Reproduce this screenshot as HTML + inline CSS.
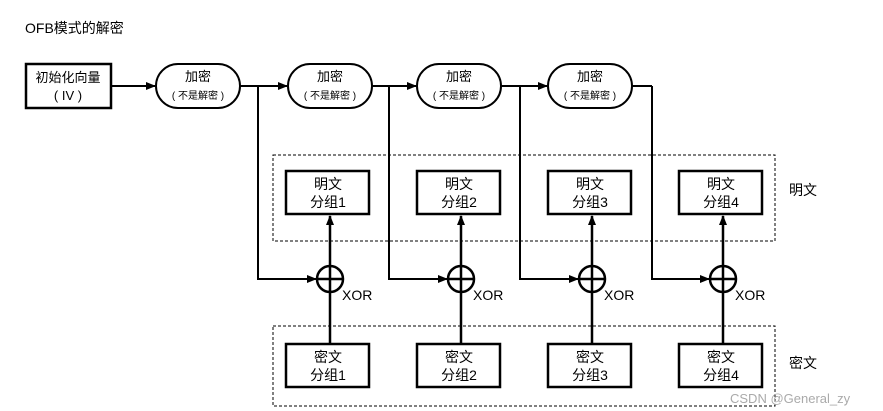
<!DOCTYPE html>
<html><head><meta charset="utf-8"><style>
html,body{margin:0;padding:0;background:#fff;width:883px;height:411px;overflow:hidden}
svg{display:block}
text{font-family:"Liberation Sans","Noto Sans CJK SC",sans-serif;fill:#000}
</style></head><body>
<svg width="883" height="411" viewBox="0 0 883 411" xmlns="http://www.w3.org/2000/svg">
<defs><marker id="a" markerWidth="10" markerHeight="8" refX="9" refY="4" orient="auto" markerUnits="userSpaceOnUse"><path d="M0,0L10,4L0,8z" fill="#000"/></marker></defs>
<text x="25" y="33" font-size="14">OFB模式的解密</text>
<rect x="26" y="64" width="85" height="44" fill="none" stroke="#000" stroke-width="2.5"/>
<text x="68" y="82" font-size="13" text-anchor="middle">初始化向量</text>
<text x="68" y="100" font-size="13" text-anchor="middle">( IV )</text>
<g fill="none" stroke="#000" stroke-width="2">
<line x1="111" y1="86" x2="155" y2="86" marker-end="url(#a)"/>
<line x1="240" y1="86" x2="287" y2="86" marker-end="url(#a)"/>
<line x1="372" y1="86" x2="416" y2="86" marker-end="url(#a)"/>
<line x1="501" y1="86" x2="547" y2="86" marker-end="url(#a)"/>
<line x1="632" y1="86" x2="652" y2="86"/>
<rect x="156" y="64" width="84" height="44" rx="22"/>
<rect x="288" y="64" width="84" height="44" rx="22"/>
<rect x="417" y="64" width="84" height="44" rx="22"/>
<rect x="548" y="64" width="84" height="44" rx="22"/>
<polyline points="258,86 258,279 316,279" marker-end="url(#a)"/>
<polyline points="389,86 389,279 447,279" marker-end="url(#a)"/>
<polyline points="520,86 520,279 578,279" marker-end="url(#a)"/>
<polyline points="652,86 652,279 709,279" marker-end="url(#a)"/>
<rect x="273" y="155" width="502" height="86" stroke-width="1" stroke-dasharray="3,2"/>
<rect x="273" y="326" width="502" height="80" stroke-width="1" stroke-dasharray="3,2"/>
</g>
<g font-size="13" text-anchor="middle">
<text x="198" y="81">加密</text><text x="198" y="99" font-size="10">( 不是解密 )</text>
<text x="330" y="81">加密</text><text x="330" y="99" font-size="10">( 不是解密 )</text>
<text x="459" y="81">加密</text><text x="459" y="99" font-size="10">( 不是解密 )</text>
<text x="590" y="81">加密</text><text x="590" y="99" font-size="10">( 不是解密 )</text>
</g>
<g id="col">
</g>
<g fill="none" stroke="#000" stroke-width="2.5">
<rect x="286" y="171" width="83" height="43"/><rect x="417" y="171" width="83" height="43"/>
<rect x="548" y="171" width="83" height="43"/><rect x="679" y="171" width="83" height="43"/>
<rect x="286" y="344" width="83" height="43"/><rect x="417" y="344" width="83" height="43"/>
<rect x="548" y="344" width="83" height="43"/><rect x="679" y="344" width="83" height="43"/>
<circle cx="330" cy="279" r="13"/><circle cx="461" cy="279" r="13"/>
<circle cx="592" cy="279" r="13"/><circle cx="723" cy="279" r="13"/>
</g>
<g stroke="#000" stroke-width="2.5" fill="none">
<line x1="317" y1="279" x2="343" y2="279"/><line x1="448" y1="279" x2="474" y2="279"/>
<line x1="579" y1="279" x2="605" y2="279"/><line x1="710" y1="279" x2="736" y2="279"/>
<line x1="330" y1="344" x2="330" y2="216" marker-end="url(#a)"/>
<line x1="461" y1="344" x2="461" y2="216" marker-end="url(#a)"/>
<line x1="592" y1="344" x2="592" y2="216" marker-end="url(#a)"/>
<line x1="723" y1="344" x2="723" y2="216" marker-end="url(#a)"/>
</g>
<g font-size="14" text-anchor="middle">
<text x="328" y="189">明文</text><text x="328" y="207">分组1</text>
<text x="459" y="189">明文</text><text x="459" y="207">分组2</text>
<text x="590" y="189">明文</text><text x="590" y="207">分组3</text>
<text x="721" y="189">明文</text><text x="721" y="207">分组4</text>
<text x="328" y="362">密文</text><text x="328" y="380">分组1</text>
<text x="459" y="362">密文</text><text x="459" y="380">分组2</text>
<text x="590" y="362">密文</text><text x="590" y="380">分组3</text>
<text x="721" y="362">密文</text><text x="721" y="380">分组4</text>
</g>
<g font-size="14">
<text x="342" y="300">XOR</text><text x="473" y="300">XOR</text>
<text x="604" y="300">XOR</text><text x="735" y="300">XOR</text>
<text x="789" y="195">明文</text><text x="789" y="368">密文</text>
</g>
<text x="730" y="403" font-size="13" style="fill:#aaa">CSDN @General_zy</text>
</svg>
</body></html>
